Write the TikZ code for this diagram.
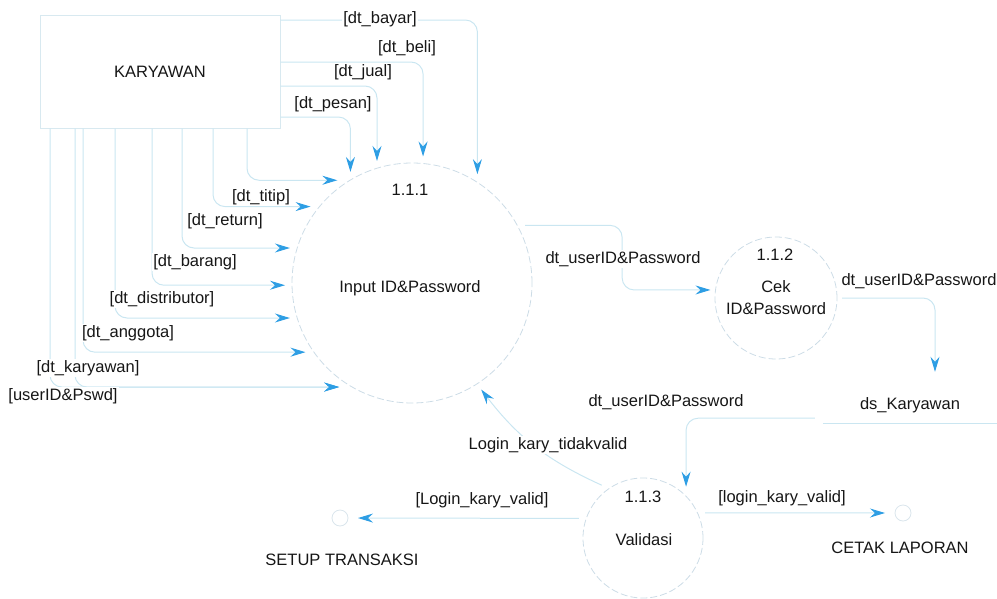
\documentclass[tikz,border=0pt]{standalone}
\usepackage{fontspec}
\setmainfont{Liberation Sans}
\usetikzlibrary{arrows.meta}
\definecolor{flowc}{RGB}{202,230,241}
\definecolor{tipc}{RGB}{46,158,228}
\definecolor{procc}{RGB}{204,220,230}
\definecolor{entc}{RGB}{216,233,240}
\definecolor{glyphc}{RGB}{218,229,236}
\definecolor{txtc}{RGB}{22,22,22}
\begin{document}
\begin{tikzpicture}[x=1pt,y=-1pt,
  every node/.style={font=\fontsize{16.5}{20}\selectfont, text=txtc},
  flow/.style={draw=flowc, line width=1pt, rounded corners=12pt,
    -{Stealth[length=15pt,width=9pt,inset=5pt,color=tipc]}},
  entity/.style={draw=entc, line width=1pt, minimum width=240pt, minimum height=113pt, inner sep=0pt},
  proc/.style={circle, draw=procc, line width=0.8pt, dash pattern=on 7pt off 3pt, inner sep=0pt, outer sep=7pt},
  glyph/.style={circle, draw=glyphc, line width=0.8pt, minimum size=16pt, inner sep=0pt, outer sep=10pt},
  lbl/.style={fill=white, inner sep=1pt},
  storebox/.style={minimum width=174pt, text height=33pt, text depth=10pt, inner ysep=4pt, inner xsep=0pt},
  storeline/.style={draw=flowc, line width=1pt}
]
\useasboundingbox (0,0) rectangle (997,598);

% external entity and processes
\node[entity] (kary) at (160,71.5) {KARYAWAN};
\node[proc, minimum size=240pt] (c111) at (412,283) {};
\node[proc, minimum size=122pt, outer sep=5pt] (c112) at (776,298) {};
\node[proc, minimum size=120pt] (c113) at (643,538) {};
\node (n111) at (410,190) {1.1.1};
\node (t111) at (410,288) {Input ID\&Password};
\node (n112) at (775,255) {1.1.2};
\node[align=center, font=\fontsize{16.5}{22}\selectfont] (t112) at (776,298) {Cek\\ID\&Password};
\node (n113) at (643,497) {1.1.3};
\node (t113) at (644,540) {Validasi};

% data store
\node[storebox, anchor=base] (ds) at (910,409) {ds\_Karyawan};
\draw[storeline] (ds.south west) -- (ds.south east);

% interface glyphs
\node[glyph] (setup) at (340,518) {};
\node (setuplbl) at (342,560) {SETUP TRANSAKSI};
\node[glyph] (cetak) at (903,513) {};
\node (cetaklbl) at (900,548) {CETAK LAPORAN};

% flows from the top side of the entity
\draw[flow] (kary.east |- 0,20) -| (c111.59.2);
\draw[flow] (kary.east |- 0,62) -| (c111.85.5);
\draw[flow] (kary.east |- 0,86) -| (c111.106);
\draw[flow] (kary.east |- 0,117) -| (c111.119.2);

% flows from the bottom side of the entity
\draw[flow] (kary.south -| 247,0) |- (c111.126.6);
\draw[flow] (kary.south -| 213,0) |- (c111.143.8);
\draw[flow] (kary.south -| 182,0) |- (c111.164);
\draw[flow] (kary.south -| 152,0) |- (c111.181.8);
\draw[flow] (kary.south -| 115,0) |- (c111.196.9);
\draw[flow] (kary.south -| 83,0) |- (c111.213.4);
\draw[flow] (kary.south -| 75,0) |- (c111.235);
\draw[flow] (kary.south -| 50,0) |- (c111.235);

% flow labels around the entity
\node[lbl] (lbayar) at (380,19) {[dt\_bayar]};
\node[lbl] (lbeli) at (407,48) {[dt\_beli]};
\node[lbl] (ljual) at (363,72) {[dt\_jual]};
\node[lbl] (lpesan) at (333,104) {[dt\_pesan]};
\node[lbl] (ltitip) at (261,197) {[dt\_titip]};
\node[lbl] (lreturn) at (225,221) {[dt\_return]};
\node[lbl] (lbarang) at (195,262) {[dt\_barang]};
\node[lbl] (ldistr) at (162,299) {[dt\_distributor]};
\node[lbl] (langg) at (128,333) {[dt\_anggota]};
\node[lbl] (lkary) at (88,368) {[dt\_karyawan]};
\node[lbl] (luser) at (63,396) {[userID\&Pswd]};

% process flows
\draw[flow] (c111.27) -- ++(97,0) |- (c112.173);
\node[lbl] (l12) at (623,259) {dt\_userID\&Password};
\draw[flow] (c112.east) -| ([xshift=25pt]ds.north);
\node (l2ds) at (919,281) {dt\_userID\&Password};
\draw[flow] ([shift={(-8pt,5pt)}]ds.south west) -| (c113.50);
\node (lds3) at (666,402) {dt\_userID\&Password};
\draw[flow] (c113.128) to[bend left=14] (c111.-57);
\node[lbl] (linv) at (548,445) {Login\_kary\_tidakvalid};
\draw[flow] (c113.163) -- (setup);
\node (lvalid1) at (482,500) {[Login\_kary\_valid]};
\draw[flow] (c113.22) -- (cetak);
\node (lvalid2) at (782,498) {[login\_kary\_valid]};
\end{tikzpicture}
\end{document}
